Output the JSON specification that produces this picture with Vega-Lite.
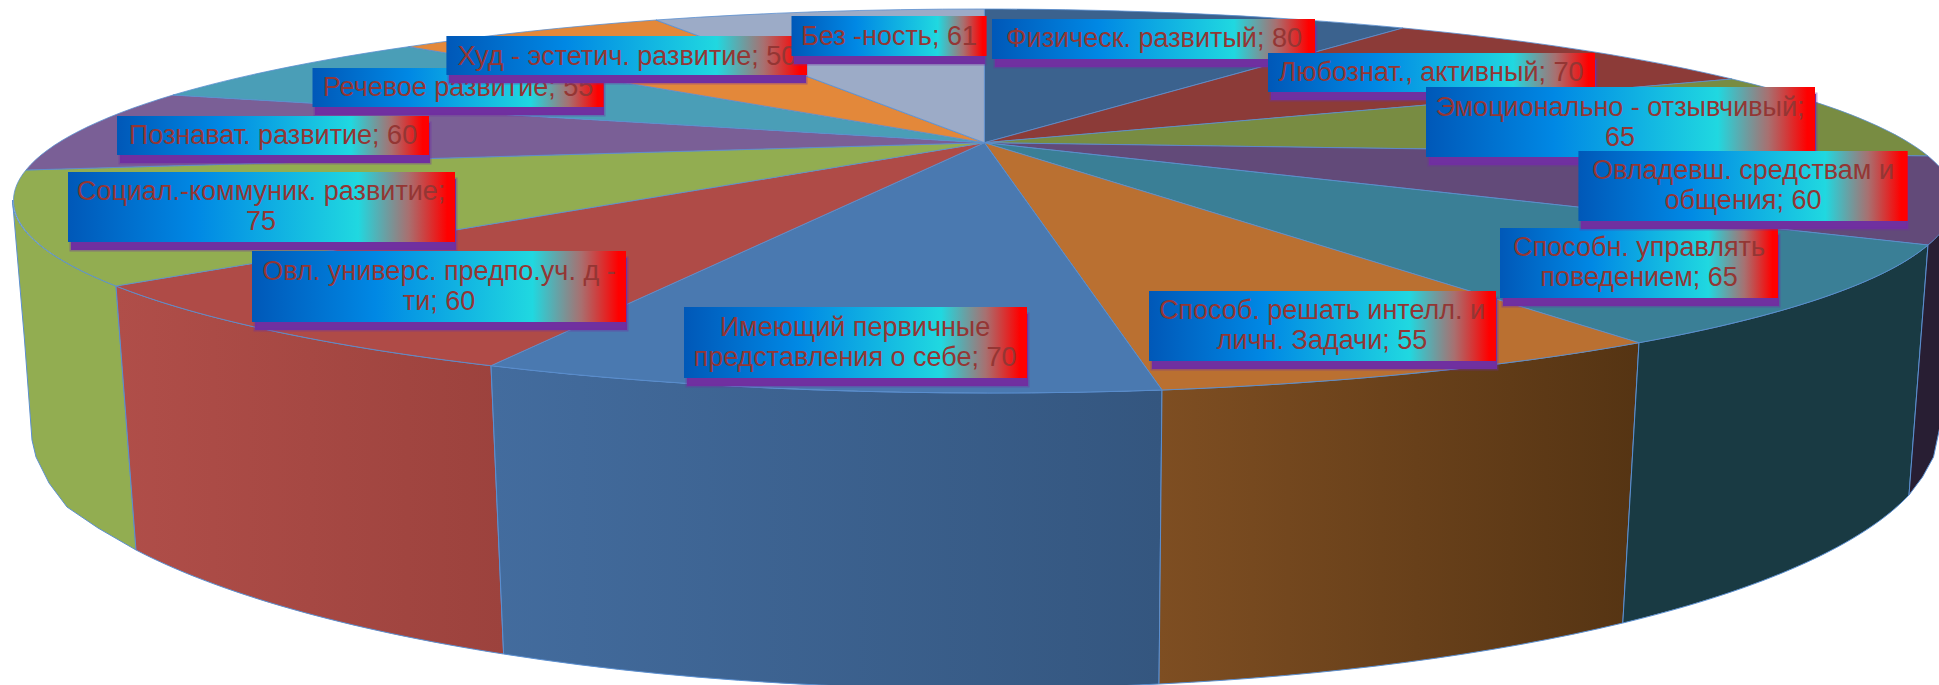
{"$schema":"https://vega.github.io/schema/vega-lite/v6.json","width":1939,"height":685,"padding":0,"autosize":"none","background":"white","config":{"view":{"stroke":null}},
"data":{"values":[
{"name":"Физ","value":80,"label":"Физическ.  развитый;  80"},
{"name":"Люб","value":70,"label":"Любознат., активный;  70"},
{"name":"Эмо","value":65,"label":"Эмоционально  - отзывчивый;\n65"},
{"name":"Вла","value":60,"label":"Овладевш.  средствам и\nобщения;  60"},
{"name":"Упр","value":65,"label":"Способн.  управлять\nповедением;  65"},
{"name":"Реш","value":55,"label":"Способ. решать интелл.  и\nличн.  Задачи; 55"},
{"name":"Име","value":70,"label":"Имеющий  первичные\nпредставления  о себе; 70"},
{"name":"Уни","value":60,"label":"Овл.  универс. предпо.уч.  д -\nти; 60"},
{"name":"Соц","value":75,"label":"Социал.-коммуник.  развитие;\n75"},
{"name":"Поз","value":60,"label":"Познават.  развитие; 60"},
{"name":"Реч","value":55,"label":"Речевое развитие; 55"},
{"name":"Худ","value":50,"label":"Худ - эстетич. развитие;  50"},
{"name":"Без","value":61,"label":"Без -ность; 61"}
]},
"layer":[
{"encoding":{"x":{"datum":0,"type":"quantitative","scale":{"domain":[0,1939],"range":[0,1939]},"axis":null},"y":{"datum":0,"type":"quantitative","scale":{"domain":[0,685],"range":[0,685]},"axis":null}},
"layer":[
{"transform":[{"filter":{"field":"name","equal":"Соц"}}],"mark":{"type":"point","filled":true,"opacity":1,"size":4,"fill":"#92AD51","stroke":"#5B8FD0","strokeWidth":1,"shape":"M116 286A970 191 0 0 1 12.5 200L24.5 340L32 440L36 457L49 483L67 507L98 528L136 550Z"}},
{"transform":[{"filter":{"field":"name","equal":"Уни"}}],"mark":{"type":"point","filled":true,"opacity":1,"size":4,"fill":{"gradient":"linear","x1":0,"y1":0,"x2":1,"y2":0,"stops":[{"offset":0,"color":"#B04E49"},{"offset":1,"color":"#9C423D"}]},"stroke":"#5B8FD0","strokeWidth":1,"shape":"M491 365.7A970 191 0 0 1 116 286L136 550A945 256 0 0 0 503.6 654Z"}},
{"transform":[{"filter":{"field":"name","equal":"Име"}}],"mark":{"type":"point","filled":true,"opacity":1,"size":4,"fill":{"gradient":"linear","x1":0,"y1":0,"x2":1,"y2":0,"stops":[{"offset":0,"color":"#436C9E"},{"offset":1,"color":"#34567F"}]},"stroke":"#5B8FD0","strokeWidth":1,"shape":"M1162 390A970 191 0 0 1 491 365.7L503.6 654A945 256 0 0 0 1159 684Z"}},
{"transform":[{"filter":{"field":"name","equal":"Реш"}}],"mark":{"type":"point","filled":true,"opacity":1,"size":4,"fill":{"gradient":"linear","x1":0,"y1":0,"x2":1,"y2":0,"stops":[{"offset":0,"color":"#7E4E22"},{"offset":1,"color":"#553413"}]},"stroke":"#5B8FD0","strokeWidth":1,"shape":"M1639 342.7A970 191 0 0 1 1162 390L1159 684A945 256 0 0 0 1622.8 623Z"}},
{"transform":[{"filter":{"field":"name","equal":"Упр"}}],"mark":{"type":"point","filled":true,"opacity":1,"size":4,"fill":"#193A43","stroke":"#5B8FD0","strokeWidth":1,"shape":"M1928 245A970 191 0 0 1 1639 342.7L1622.8 623A945 256 0 0 0 1909 495Z"}},
{"transform":[{"filter":{"field":"name","equal":"Вла"}}],"mark":{"type":"point","filled":true,"opacity":1,"size":4,"fill":"#281E33","stroke":"#5B8FD0","strokeWidth":1,"shape":"M1952 200A970 191 0 0 1 1928 245L1909 495L1922.5 477L1933.5 457L1942 417Z"}},
{"transform":[{"filter":{"field":"name","equal":"Физ"}}],"mark":{"type":"point","filled":true,"opacity":1,"size":4,"fill":"#3B628E","stroke":"#5B8FD0","strokeWidth":0.8,"shape":"M984.4 142.7L984.4 9A970 191 0 0 1 1403 28Z"}},
{"transform":[{"filter":{"field":"name","equal":"Люб"}}],"mark":{"type":"point","filled":true,"opacity":1,"size":4,"fill":"#8C3B38","stroke":"#5B8FD0","strokeWidth":0.8,"shape":"M984.4 142.7L1403 28A970 191 0 0 1 1732 79Z"}},
{"transform":[{"filter":{"field":"name","equal":"Эмо"}}],"mark":{"type":"point","filled":true,"opacity":1,"size":4,"fill":"#788C42","stroke":"#5B8FD0","strokeWidth":0.8,"shape":"M984.4 142.7L1732 79A970 191 0 0 1 1928 156Z"}},
{"transform":[{"filter":{"field":"name","equal":"Вла"}}],"mark":{"type":"point","filled":true,"opacity":1,"size":4,"fill":"#624A79","stroke":"#5B8FD0","strokeWidth":0.8,"shape":"M984.4 142.7L1928 156A970 191 0 0 1 1928 245Z"}},
{"transform":[{"filter":{"field":"name","equal":"Упр"}}],"mark":{"type":"point","filled":true,"opacity":1,"size":4,"fill":"#3A7F96","stroke":"#5B8FD0","strokeWidth":0.8,"shape":"M984.4 142.7L1928 245A970 191 0 0 1 1639 342.7Z"}},
{"transform":[{"filter":{"field":"name","equal":"Реш"}}],"mark":{"type":"point","filled":true,"opacity":1,"size":4,"fill":"#BA7031","stroke":"#5B8FD0","strokeWidth":0.8,"shape":"M984.4 142.7L1639 342.7A970 191 0 0 1 1162 390Z"}},
{"transform":[{"filter":{"field":"name","equal":"Име"}}],"mark":{"type":"point","filled":true,"opacity":1,"size":4,"fill":"#4A79B0","stroke":"#5B8FD0","strokeWidth":0.8,"shape":"M984.4 142.7L1162 390A970 191 0 0 1 491 365.7Z"}},
{"transform":[{"filter":{"field":"name","equal":"Уни"}}],"mark":{"type":"point","filled":true,"opacity":1,"size":4,"fill":"#AF4B47","stroke":"#5B8FD0","strokeWidth":0.8,"shape":"M984.4 142.7L491 365.7A970 191 0 0 1 116 286Z"}},
{"transform":[{"filter":{"field":"name","equal":"Соц"}}],"mark":{"type":"point","filled":true,"opacity":1,"size":4,"fill":"#92AD51","stroke":"#5B8FD0","strokeWidth":0.8,"shape":"M984.4 142.7L116 286A970 191 0 0 1 26 170Z"}},
{"transform":[{"filter":{"field":"name","equal":"Поз"}}],"mark":{"type":"point","filled":true,"opacity":1,"size":4,"fill":"#7A5F96","stroke":"#5B8FD0","strokeWidth":0.8,"shape":"M984.4 142.7L26 170A970 191 0 0 1 173 95Z"}},
{"transform":[{"filter":{"field":"name","equal":"Реч"}}],"mark":{"type":"point","filled":true,"opacity":1,"size":4,"fill":"#4A9EB7","stroke":"#5B8FD0","strokeWidth":0.8,"shape":"M984.4 142.7L173 95A970 191 0 0 1 408.5 46.7Z"}},
{"transform":[{"filter":{"field":"name","equal":"Худ"}}],"mark":{"type":"point","filled":true,"opacity":1,"size":4,"fill":"#E3883A","stroke":"#5B8FD0","strokeWidth":0.8,"shape":"M984.4 142.7L408.5 46.7A970 191 0 0 1 656 20Z"}},
{"transform":[{"filter":{"field":"name","equal":"Без"}}],"mark":{"type":"point","filled":true,"opacity":1,"size":4,"fill":"#9CABC7","stroke":"#5B8FD0","strokeWidth":0.8,"shape":"M984.4 142.7L656 20A970 191 0 0 1 984.4 9Z"}}
]},
{"transform":[{"filter":{"field":"name","equal":"Реч"}}],"layer":[
{"mark":{"type":"rect","fill":"#7030A0","stroke":"#7030A0","strokeOpacity":0.4,"strokeWidth":3},"encoding":{"x":{"datum":315,"type":"quantitative","scale":{"domain":[0,1939],"range":[0,1939]},"axis":null},"x2":{"datum":604},"y":{"datum":75,"type":"quantitative","scale":{"domain":[0,685],"range":[0,685]},"axis":null},"y2":{"datum":115}}},
{"mark":{"type":"rect","fill":{"gradient":"linear","x1":0,"y1":0,"x2":1,"y2":0,"stops":[{"offset":0,"color":"#0058B8"},{"offset":0.33,"color":"#0088E4"},{"offset":0.75,"color":"#20D8E0"},{"offset":0.88,"color":"#A87070"},{"offset":0.98,"color":"#FF0000"}]}},"encoding":{"x":{"datum":312.5,"type":"quantitative","scale":{"domain":[0,1939],"range":[0,1939]},"axis":null},"x2":{"datum":603.6},"y":{"datum":68,"type":"quantitative","scale":{"domain":[0,685],"range":[0,685]},"axis":null},"y2":{"datum":107}}},
{"mark":{"type":"text","font":"Liberation Sans","fontSize":27,"fill":"#943634","lineBreak":"\n","lineHeight":30,"align":"center","baseline":"middle"},"encoding":{"x":{"datum":458,"type":"quantitative","scale":{"domain":[0,1939],"range":[0,1939]},"axis":null},"y":{"datum":88,"type":"quantitative","scale":{"domain":[0,685],"range":[0,685]},"axis":null},"text":{"field":"label"}}}
]},
{"transform":[{"filter":{"field":"name","equal":"Поз"}}],"layer":[
{"mark":{"type":"rect","fill":"#7030A0","stroke":"#7030A0","strokeOpacity":0.4,"strokeWidth":3},"encoding":{"x":{"datum":120,"type":"quantitative","scale":{"domain":[0,1939],"range":[0,1939]},"axis":null},"x2":{"datum":430},"y":{"datum":123,"type":"quantitative","scale":{"domain":[0,685],"range":[0,685]},"axis":null},"y2":{"datum":163}}},
{"mark":{"type":"rect","fill":{"gradient":"linear","x1":0,"y1":0,"x2":1,"y2":0,"stops":[{"offset":0,"color":"#0058B8"},{"offset":0.33,"color":"#0088E4"},{"offset":0.75,"color":"#20D8E0"},{"offset":0.88,"color":"#A87070"},{"offset":0.98,"color":"#FF0000"}]}},"encoding":{"x":{"datum":117,"type":"quantitative","scale":{"domain":[0,1939],"range":[0,1939]},"axis":null},"x2":{"datum":429},"y":{"datum":116,"type":"quantitative","scale":{"domain":[0,685],"range":[0,685]},"axis":null},"y2":{"datum":155}}},
{"mark":{"type":"text","font":"Liberation Sans","fontSize":27,"fill":"#943634","lineBreak":"\n","lineHeight":30,"align":"center","baseline":"middle"},"encoding":{"x":{"datum":273,"type":"quantitative","scale":{"domain":[0,1939],"range":[0,1939]},"axis":null},"y":{"datum":136,"type":"quantitative","scale":{"domain":[0,685],"range":[0,685]},"axis":null},"text":{"field":"label"}}}
]},
{"transform":[{"filter":{"field":"name","equal":"Соц"}}],"layer":[
{"mark":{"type":"rect","fill":"#7030A0","stroke":"#7030A0","strokeOpacity":0.4,"strokeWidth":3},"encoding":{"x":{"datum":71,"type":"quantitative","scale":{"domain":[0,1939],"range":[0,1939]},"axis":null},"x2":{"datum":456},"y":{"datum":179,"type":"quantitative","scale":{"domain":[0,685],"range":[0,685]},"axis":null},"y2":{"datum":250}}},
{"mark":{"type":"rect","fill":{"gradient":"linear","x1":0,"y1":0,"x2":1,"y2":0,"stops":[{"offset":0,"color":"#0058B8"},{"offset":0.33,"color":"#0088E4"},{"offset":0.75,"color":"#20D8E0"},{"offset":0.88,"color":"#A87070"},{"offset":0.98,"color":"#FF0000"}]}},"encoding":{"x":{"datum":68,"type":"quantitative","scale":{"domain":[0,1939],"range":[0,1939]},"axis":null},"x2":{"datum":455},"y":{"datum":172,"type":"quantitative","scale":{"domain":[0,685],"range":[0,685]},"axis":null},"y2":{"datum":242}}},
{"mark":{"type":"text","font":"Liberation Sans","fontSize":27,"fill":"#943634","lineBreak":"\n","lineHeight":30,"align":"center","baseline":"middle"},"encoding":{"x":{"datum":261,"type":"quantitative","scale":{"domain":[0,1939],"range":[0,1939]},"axis":null},"y":{"datum":192,"type":"quantitative","scale":{"domain":[0,685],"range":[0,685]},"axis":null},"text":{"field":"label"}}}
]},
{"transform":[{"filter":{"field":"name","equal":"Уни"}}],"layer":[
{"mark":{"type":"rect","fill":"#7030A0","stroke":"#7030A0","strokeOpacity":0.4,"strokeWidth":3},"encoding":{"x":{"datum":255,"type":"quantitative","scale":{"domain":[0,1939],"range":[0,1939]},"axis":null},"x2":{"datum":627},"y":{"datum":258,"type":"quantitative","scale":{"domain":[0,685],"range":[0,685]},"axis":null},"y2":{"datum":330}}},
{"mark":{"type":"rect","fill":{"gradient":"linear","x1":0,"y1":0,"x2":1,"y2":0,"stops":[{"offset":0,"color":"#0058B8"},{"offset":0.33,"color":"#0088E4"},{"offset":0.75,"color":"#20D8E0"},{"offset":0.88,"color":"#A87070"},{"offset":0.98,"color":"#FF0000"}]}},"encoding":{"x":{"datum":252,"type":"quantitative","scale":{"domain":[0,1939],"range":[0,1939]},"axis":null},"x2":{"datum":626},"y":{"datum":251,"type":"quantitative","scale":{"domain":[0,685],"range":[0,685]},"axis":null},"y2":{"datum":322}}},
{"mark":{"type":"text","font":"Liberation Sans","fontSize":27,"fill":"#943634","lineBreak":"\n","lineHeight":30,"align":"center","baseline":"middle"},"encoding":{"x":{"datum":439,"type":"quantitative","scale":{"domain":[0,1939],"range":[0,1939]},"axis":null},"y":{"datum":272,"type":"quantitative","scale":{"domain":[0,685],"range":[0,685]},"axis":null},"text":{"field":"label"}}}
]},
{"transform":[{"filter":{"field":"name","equal":"Име"}}],"layer":[
{"mark":{"type":"rect","fill":"#7030A0","stroke":"#7030A0","strokeOpacity":0.4,"strokeWidth":3},"encoding":{"x":{"datum":687,"type":"quantitative","scale":{"domain":[0,1939],"range":[0,1939]},"axis":null},"x2":{"datum":1028},"y":{"datum":314,"type":"quantitative","scale":{"domain":[0,685],"range":[0,685]},"axis":null},"y2":{"datum":386}}},
{"mark":{"type":"rect","fill":{"gradient":"linear","x1":0,"y1":0,"x2":1,"y2":0,"stops":[{"offset":0,"color":"#0058B8"},{"offset":0.33,"color":"#0088E4"},{"offset":0.75,"color":"#20D8E0"},{"offset":0.88,"color":"#A87070"},{"offset":0.98,"color":"#FF0000"}]}},"encoding":{"x":{"datum":684,"type":"quantitative","scale":{"domain":[0,1939],"range":[0,1939]},"axis":null},"x2":{"datum":1027},"y":{"datum":307,"type":"quantitative","scale":{"domain":[0,685],"range":[0,685]},"axis":null},"y2":{"datum":378}}},
{"mark":{"type":"text","font":"Liberation Sans","fontSize":27,"fill":"#943634","lineBreak":"\n","lineHeight":30,"align":"center","baseline":"middle"},"encoding":{"x":{"datum":855,"type":"quantitative","scale":{"domain":[0,1939],"range":[0,1939]},"axis":null},"y":{"datum":328,"type":"quantitative","scale":{"domain":[0,685],"range":[0,685]},"axis":null},"text":{"field":"label"}}}
]},
{"transform":[{"filter":{"field":"name","equal":"Реш"}}],"layer":[
{"mark":{"type":"rect","fill":"#7030A0","stroke":"#7030A0","strokeOpacity":0.4,"strokeWidth":3},"encoding":{"x":{"datum":1152,"type":"quantitative","scale":{"domain":[0,1939],"range":[0,1939]},"axis":null},"x2":{"datum":1497},"y":{"datum":298,"type":"quantitative","scale":{"domain":[0,685],"range":[0,685]},"axis":null},"y2":{"datum":369}}},
{"mark":{"type":"rect","fill":{"gradient":"linear","x1":0,"y1":0,"x2":1,"y2":0,"stops":[{"offset":0,"color":"#0058B8"},{"offset":0.33,"color":"#0088E4"},{"offset":0.75,"color":"#20D8E0"},{"offset":0.88,"color":"#A87070"},{"offset":0.98,"color":"#FF0000"}]}},"encoding":{"x":{"datum":1149,"type":"quantitative","scale":{"domain":[0,1939],"range":[0,1939]},"axis":null},"x2":{"datum":1496},"y":{"datum":291,"type":"quantitative","scale":{"domain":[0,685],"range":[0,685]},"axis":null},"y2":{"datum":361}}},
{"mark":{"type":"text","font":"Liberation Sans","fontSize":27,"fill":"#943634","lineBreak":"\n","lineHeight":30,"align":"center","baseline":"middle"},"encoding":{"x":{"datum":1322,"type":"quantitative","scale":{"domain":[0,1939],"range":[0,1939]},"axis":null},"y":{"datum":311,"type":"quantitative","scale":{"domain":[0,685],"range":[0,685]},"axis":null},"text":{"field":"label"}}}
]},
{"transform":[{"filter":{"field":"name","equal":"Упр"}}],"layer":[
{"mark":{"type":"rect","fill":"#7030A0","stroke":"#7030A0","strokeOpacity":0.4,"strokeWidth":3},"encoding":{"x":{"datum":1503,"type":"quantitative","scale":{"domain":[0,1939],"range":[0,1939]},"axis":null},"x2":{"datum":1779},"y":{"datum":235,"type":"quantitative","scale":{"domain":[0,685],"range":[0,685]},"axis":null},"y2":{"datum":306}}},
{"mark":{"type":"rect","fill":{"gradient":"linear","x1":0,"y1":0,"x2":1,"y2":0,"stops":[{"offset":0,"color":"#0058B8"},{"offset":0.33,"color":"#0088E4"},{"offset":0.75,"color":"#20D8E0"},{"offset":0.88,"color":"#A87070"},{"offset":0.98,"color":"#FF0000"}]}},"encoding":{"x":{"datum":1500,"type":"quantitative","scale":{"domain":[0,1939],"range":[0,1939]},"axis":null},"x2":{"datum":1778},"y":{"datum":228,"type":"quantitative","scale":{"domain":[0,685],"range":[0,685]},"axis":null},"y2":{"datum":298}}},
{"mark":{"type":"text","font":"Liberation Sans","fontSize":27,"fill":"#943634","lineBreak":"\n","lineHeight":30,"align":"center","baseline":"middle"},"encoding":{"x":{"datum":1639,"type":"quantitative","scale":{"domain":[0,1939],"range":[0,1939]},"axis":null},"y":{"datum":248,"type":"quantitative","scale":{"domain":[0,685],"range":[0,685]},"axis":null},"text":{"field":"label"}}}
]},
{"transform":[{"filter":{"field":"name","equal":"Худ"}}],"layer":[
{"mark":{"type":"rect","fill":"#7030A0","stroke":"#7030A0","strokeOpacity":0.4,"strokeWidth":3},"encoding":{"x":{"datum":449,"type":"quantitative","scale":{"domain":[0,1939],"range":[0,1939]},"axis":null},"x2":{"datum":806},"y":{"datum":43,"type":"quantitative","scale":{"domain":[0,685],"range":[0,685]},"axis":null},"y2":{"datum":83}}},
{"mark":{"type":"rect","fill":{"gradient":"linear","x1":0,"y1":0,"x2":1,"y2":0,"stops":[{"offset":0,"color":"#0058B8"},{"offset":0.33,"color":"#0088E4"},{"offset":0.75,"color":"#20D8E0"},{"offset":0.88,"color":"#A87070"},{"offset":0.98,"color":"#FF0000"}]}},"encoding":{"x":{"datum":446.4,"type":"quantitative","scale":{"domain":[0,1939],"range":[0,1939]},"axis":null},"x2":{"datum":807},"y":{"datum":36,"type":"quantitative","scale":{"domain":[0,685],"range":[0,685]},"axis":null},"y2":{"datum":75}}},
{"mark":{"type":"text","font":"Liberation Sans","fontSize":27,"fill":"#943634","lineBreak":"\n","lineHeight":30,"align":"center","baseline":"middle"},"encoding":{"x":{"datum":627,"type":"quantitative","scale":{"domain":[0,1939],"range":[0,1939]},"axis":null},"y":{"datum":57,"type":"quantitative","scale":{"domain":[0,685],"range":[0,685]},"axis":null},"text":{"field":"label"}}}
]},
{"transform":[{"filter":{"field":"name","equal":"Без"}}],"layer":[
{"mark":{"type":"rect","fill":"#7030A0","stroke":"#7030A0","strokeOpacity":0.4,"strokeWidth":3},"encoding":{"x":{"datum":794,"type":"quantitative","scale":{"domain":[0,1939],"range":[0,1939]},"axis":null},"x2":{"datum":985},"y":{"datum":23,"type":"quantitative","scale":{"domain":[0,685],"range":[0,685]},"axis":null},"y2":{"datum":64}}},
{"mark":{"type":"rect","fill":{"gradient":"linear","x1":0,"y1":0,"x2":1,"y2":0,"stops":[{"offset":0,"color":"#0058B8"},{"offset":0.33,"color":"#0088E4"},{"offset":0.75,"color":"#20D8E0"},{"offset":0.88,"color":"#A87070"},{"offset":0.98,"color":"#FF0000"}]}},"encoding":{"x":{"datum":791.5,"type":"quantitative","scale":{"domain":[0,1939],"range":[0,1939]},"axis":null},"x2":{"datum":986.6},"y":{"datum":16,"type":"quantitative","scale":{"domain":[0,685],"range":[0,685]},"axis":null},"y2":{"datum":56}}},
{"mark":{"type":"text","font":"Liberation Sans","fontSize":27,"fill":"#943634","lineBreak":"\n","lineHeight":30,"align":"center","baseline":"middle"},"encoding":{"x":{"datum":889,"type":"quantitative","scale":{"domain":[0,1939],"range":[0,1939]},"axis":null},"y":{"datum":37,"type":"quantitative","scale":{"domain":[0,685],"range":[0,685]},"axis":null},"text":{"field":"label"}}}
]},
{"transform":[{"filter":{"field":"name","equal":"Физ"}}],"layer":[
{"mark":{"type":"rect","fill":"#7030A0","stroke":"#7030A0","strokeOpacity":0.4,"strokeWidth":3},"encoding":{"x":{"datum":995,"type":"quantitative","scale":{"domain":[0,1939],"range":[0,1939]},"axis":null},"x2":{"datum":1316},"y":{"datum":26,"type":"quantitative","scale":{"domain":[0,685],"range":[0,685]},"axis":null},"y2":{"datum":67}}},
{"mark":{"type":"rect","fill":{"gradient":"linear","x1":0,"y1":0,"x2":1,"y2":0,"stops":[{"offset":0,"color":"#0058B8"},{"offset":0.33,"color":"#0088E4"},{"offset":0.75,"color":"#20D8E0"},{"offset":0.88,"color":"#A87070"},{"offset":0.98,"color":"#FF0000"}]}},"encoding":{"x":{"datum":992,"type":"quantitative","scale":{"domain":[0,1939],"range":[0,1939]},"axis":null},"x2":{"datum":1315},"y":{"datum":19,"type":"quantitative","scale":{"domain":[0,685],"range":[0,685]},"axis":null},"y2":{"datum":59}}},
{"mark":{"type":"text","font":"Liberation Sans","fontSize":27,"fill":"#943634","lineBreak":"\n","lineHeight":30,"align":"center","baseline":"middle"},"encoding":{"x":{"datum":1154,"type":"quantitative","scale":{"domain":[0,1939],"range":[0,1939]},"axis":null},"y":{"datum":39,"type":"quantitative","scale":{"domain":[0,685],"range":[0,685]},"axis":null},"text":{"field":"label"}}}
]},
{"transform":[{"filter":{"field":"name","equal":"Люб"}}],"layer":[
{"mark":{"type":"rect","fill":"#7030A0","stroke":"#7030A0","strokeOpacity":0.4,"strokeWidth":3},"encoding":{"x":{"datum":1271,"type":"quantitative","scale":{"domain":[0,1939],"range":[0,1939]},"axis":null},"x2":{"datum":1596},"y":{"datum":60,"type":"quantitative","scale":{"domain":[0,685],"range":[0,685]},"axis":null},"y2":{"datum":100}}},
{"mark":{"type":"rect","fill":{"gradient":"linear","x1":0,"y1":0,"x2":1,"y2":0,"stops":[{"offset":0,"color":"#0058B8"},{"offset":0.33,"color":"#0088E4"},{"offset":0.75,"color":"#20D8E0"},{"offset":0.88,"color":"#A87070"},{"offset":0.98,"color":"#FF0000"}]}},"encoding":{"x":{"datum":1268,"type":"quantitative","scale":{"domain":[0,1939],"range":[0,1939]},"axis":null},"x2":{"datum":1595},"y":{"datum":53,"type":"quantitative","scale":{"domain":[0,685],"range":[0,685]},"axis":null},"y2":{"datum":92}}},
{"mark":{"type":"text","font":"Liberation Sans","fontSize":27,"fill":"#943634","lineBreak":"\n","lineHeight":30,"align":"center","baseline":"middle"},"encoding":{"x":{"datum":1431,"type":"quantitative","scale":{"domain":[0,1939],"range":[0,1939]},"axis":null},"y":{"datum":73,"type":"quantitative","scale":{"domain":[0,685],"range":[0,685]},"axis":null},"text":{"field":"label"}}}
]},
{"transform":[{"filter":{"field":"name","equal":"Эмо"}}],"layer":[
{"mark":{"type":"rect","fill":"#7030A0","stroke":"#7030A0","strokeOpacity":0.4,"strokeWidth":3},"encoding":{"x":{"datum":1429,"type":"quantitative","scale":{"domain":[0,1939],"range":[0,1939]},"axis":null},"x2":{"datum":1816},"y":{"datum":94,"type":"quantitative","scale":{"domain":[0,685],"range":[0,685]},"axis":null},"y2":{"datum":165}}},
{"mark":{"type":"rect","fill":{"gradient":"linear","x1":0,"y1":0,"x2":1,"y2":0,"stops":[{"offset":0,"color":"#0058B8"},{"offset":0.33,"color":"#0088E4"},{"offset":0.75,"color":"#20D8E0"},{"offset":0.88,"color":"#A87070"},{"offset":0.98,"color":"#FF0000"}]}},"encoding":{"x":{"datum":1426,"type":"quantitative","scale":{"domain":[0,1939],"range":[0,1939]},"axis":null},"x2":{"datum":1815},"y":{"datum":87,"type":"quantitative","scale":{"domain":[0,685],"range":[0,685]},"axis":null},"y2":{"datum":157}}},
{"mark":{"type":"text","font":"Liberation Sans","fontSize":27,"fill":"#943634","lineBreak":"\n","lineHeight":30,"align":"center","baseline":"middle"},"encoding":{"x":{"datum":1620,"type":"quantitative","scale":{"domain":[0,1939],"range":[0,1939]},"axis":null},"y":{"datum":108,"type":"quantitative","scale":{"domain":[0,685],"range":[0,685]},"axis":null},"text":{"field":"label"}}}
]},
{"transform":[{"filter":{"field":"name","equal":"Вла"}}],"layer":[
{"mark":{"type":"rect","fill":"#7030A0","stroke":"#7030A0","strokeOpacity":0.4,"strokeWidth":3},"encoding":{"x":{"datum":1581,"type":"quantitative","scale":{"domain":[0,1939],"range":[0,1939]},"axis":null},"x2":{"datum":1908},"y":{"datum":158,"type":"quantitative","scale":{"domain":[0,685],"range":[0,685]},"axis":null},"y2":{"datum":229}}},
{"mark":{"type":"rect","fill":{"gradient":"linear","x1":0,"y1":0,"x2":1,"y2":0,"stops":[{"offset":0,"color":"#0058B8"},{"offset":0.33,"color":"#0088E4"},{"offset":0.75,"color":"#20D8E0"},{"offset":0.88,"color":"#A87070"},{"offset":0.98,"color":"#FF0000"}]}},"encoding":{"x":{"datum":1578.4,"type":"quantitative","scale":{"domain":[0,1939],"range":[0,1939]},"axis":null},"x2":{"datum":1907.7},"y":{"datum":151,"type":"quantitative","scale":{"domain":[0,685],"range":[0,685]},"axis":null},"y2":{"datum":221}}},
{"mark":{"type":"text","font":"Liberation Sans","fontSize":27,"fill":"#943634","lineBreak":"\n","lineHeight":30,"align":"center","baseline":"middle"},"encoding":{"x":{"datum":1743,"type":"quantitative","scale":{"domain":[0,1939],"range":[0,1939]},"axis":null},"y":{"datum":171,"type":"quantitative","scale":{"domain":[0,685],"range":[0,685]},"axis":null},"text":{"field":"label"}}}
]}
]}
